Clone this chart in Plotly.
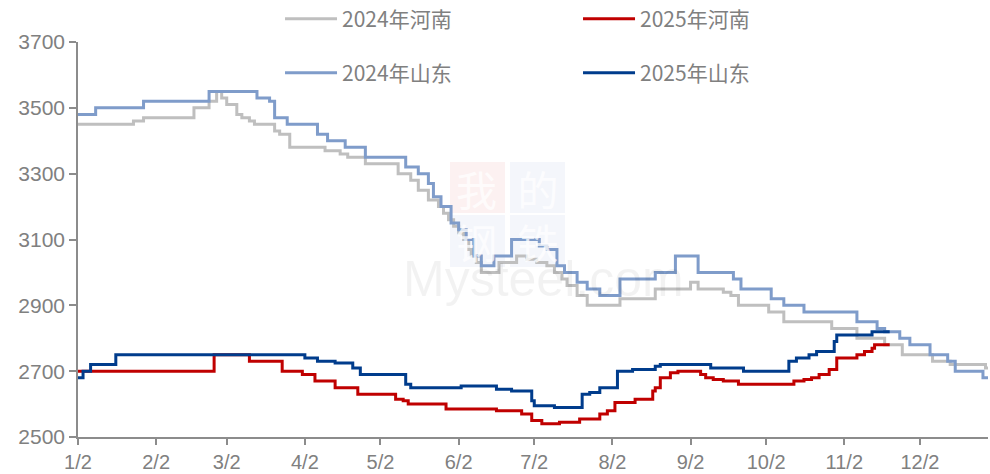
import plotly.graph_objects as go

# ---- data (change points of daily step series; all drawn on a Jan-Dec calendar) ----
henan_2024_dates = ["01-02", "01-24", "01-28", "02-17", "02-23", "02-26", "02-28", "03-02", "03-06", "03-08",
                    "03-11", "03-13", "03-21", "03-23", "03-27", "04-10", "04-16", "04-19", "04-26", "05-09",
                    "05-14", "05-17", "05-21", "05-25", "05-27", "05-29", "05-31", "06-02", "06-04", "06-06",
                    "06-07", "06-09", "06-11", "06-18", "06-25", "06-29", "07-03", "07-07", "07-10", "07-13",
                    "07-15", "07-19", "07-23", "08-05", "08-19", "09-02", "09-05", "09-15", "09-18", "09-21",
                    "10-03", "10-09", "10-28", "11-07", "11-18", "11-25", "12-07", "12-14", "12-28", "12-29"]
henan_2024_values = [3450, 3460, 3470, 3500, 3520, 3550, 3530, 3510, 3480, 3470,
                     3460, 3450, 3430, 3420, 3380, 3370, 3360, 3350, 3330, 3300,
                     3280, 3250, 3220, 3200, 3180, 3160, 3140, 3120, 3100, 3070,
                     3050, 3030, 3000, 3030, 3050, 3040, 3030, 3020, 3000, 2980,
                     2960, 2930, 2900, 2920, 2950, 2970, 2950, 2940, 2930, 2900,
                     2880, 2850, 2830, 2800, 2780, 2750, 2730, 2720, 2710, 2710]

henan_2025_dates = ["01-02", "02-25", "03-11", "03-24", "04-01", "04-06", "04-14", "04-23", "05-08", "05-11",
                    "05-13", "05-28", "06-17", "06-27", "07-01", "07-05", "07-12", "07-20", "07-28", "07-31",
                    "08-03", "08-11", "08-18", "08-19", "08-21", "08-25", "08-28", "09-06", "09-08", "09-11",
                    "09-15", "09-21", "10-13", "10-17", "10-20", "10-23", "10-27", "10-30", "11-07", "11-10",
                    "11-13", "11-14", "11-20"]
henan_2025_values = [2700, 2750, 2730, 2700, 2690, 2670, 2650, 2630, 2615, 2610,
                     2600, 2585, 2580, 2570, 2550, 2540, 2545, 2555, 2570, 2580,
                     2605, 2615, 2640, 2650, 2680, 2695, 2700, 2690, 2680, 2675,
                     2670, 2660, 2670, 2675, 2680, 2690, 2705, 2740, 2750, 2760,
                     2770, 2780, 2780]

shandong_2024_dates = ["01-02", "01-09", "01-28", "02-23", "03-14", "03-19", "03-21", "03-26", "04-07", "04-11",
                       "04-18", "04-26", "05-12", "05-17", "05-21", "05-23", "05-26", "05-30", "06-02", "06-05",
                       "06-08", "06-11", "06-16", "06-23", "07-04", "07-07", "07-11", "07-14", "07-19", "07-23",
                       "07-28", "08-05", "08-19", "08-27", "09-05", "09-19", "09-22", "10-04", "10-09", "10-17",
                       "11-07", "11-15", "11-18", "11-24", "11-28", "12-06", "12-13", "12-16", "12-27", "12-29"]
shandong_2024_values = [3480, 3500, 3520, 3550, 3530, 3520, 3470, 3450, 3420, 3400,
                        3380, 3350, 3320, 3300, 3270, 3230, 3200, 3150, 3130, 3100,
                        3050, 3020, 3050, 3100, 3080, 3070, 3020, 3000, 2970, 2950,
                        2930, 2980, 3000, 3050, 3000, 2980, 2950, 2920, 2900, 2880,
                        2850, 2830, 2820, 2800, 2780, 2750, 2730, 2700, 2680, 2680]

shandong_2025_dates = ["01-02", "01-04", "01-07", "01-17", "04-02", "04-07", "04-14", "04-21", "04-24", "05-12",
                       "05-14", "06-03", "06-17", "06-23", "07-01", "07-02", "07-10", "07-21", "07-24", "07-28",
                       "08-04", "08-10", "08-19", "08-21", "09-10", "09-23", "10-11", "10-14", "10-19", "10-22",
                       "10-29", "10-30", "11-13", "11-20"]
shandong_2025_values = [2680, 2700, 2720, 2750, 2740, 2730, 2725, 2710, 2690, 2660,
                        2650, 2655, 2645, 2640, 2610, 2595, 2590, 2630, 2635, 2650,
                        2700, 2705, 2715, 2720, 2710, 2700, 2730, 2740, 2750, 2760,
                        2790, 2810, 2820, 2820]

tick_dates = ["01-02", "02-02", "03-02", "04-02", "05-02", "06-02", "07-02", "08-02", "09-02", "10-02", "11-02", "12-02"]
tick_labels = ["1/2", "2/2", "3/2", "4/2", "5/2", "6/2", "7/2", "8/2", "9/2", "10/2", "11/2", "12/2"]

series = [
    ("2024年河南", henan_2024_dates, henan_2024_values, "#BFBFBF", "legend"),
    ("2025年河南", henan_2025_dates, henan_2025_values, "#C00000", "legend"),
    ("2024年山东", shandong_2024_dates, shandong_2024_values, "#7F9CCA", "legend2"),
    ("2025年山东", shandong_2025_dates, shandong_2025_values, "#003C8C", "legend2"),
]

YEAR = "2025-"
FONT = "Noto Sans CJK SC"
TICKFONT = "Liberation Sans"
GREY = "#808080"

fig = go.Figure()
for name, d, v, color, lg in series:
    fig.add_trace(go.Scatter(
        x=[YEAR + s for s in d], y=v, name=name, mode="lines",
        line=dict(color=color, width=3, shape="hv"), legend=lg,
    ))

# faint watermark (我的钢铁 / Mysteel.com)
blocks = [
    (0.4088, 0.4692, 0.5671, 0.6962, "rgba(230,120,120,0.10)"),
    (0.4747, 0.5352, 0.5671, 0.6962, "rgba(120,140,200,0.08)"),
    (0.4088, 0.4692, 0.4304, 0.5620, "rgba(120,140,200,0.08)"),
    (0.4747, 0.5352, 0.4304, 0.5620, "rgba(120,140,200,0.08)"),
]
for x0, x1, y0, y1, fill in blocks:
    fig.add_shape(type="rect", xref="paper", yref="paper", x0=x0, x1=x1, y0=y0, y1=y1,
                  fillcolor=fill, line=dict(width=0), layer="below")
fig.add_annotation(text="我\u2002的<br>钢\u2002铁", xref="paper", yref="paper", x=0.472, y=0.563,
                   showarrow=False, align="center",
                   font=dict(family=FONT, size=41, color="rgba(255,255,255,0.75)"))
fig.add_annotation(text="Mysteel.com", xref="paper", yref="paper", x=0.511, y=0.400,
                   showarrow=False, font=dict(family=TICKFONT, size=50, color="rgba(0,0,0,0.05)"))

legend_common = dict(
    orientation="h", xanchor="left", yanchor="middle",
    font=dict(family=FONT, size=21, color=GREY),
    bgcolor="rgba(0,0,0,0)", entrywidth=231, itemwidth=52,
    traceorder="normal",
)

fig.update_layout(
    template="none",
    width=990, height=474,
    margin=dict(l=78, r=2, t=42, b=37, autoexpand=False),
    paper_bgcolor="white", plot_bgcolor="white",
    font=dict(family=FONT, size=21, color=GREY),
    showlegend=True,
    legend=dict(x=0.222, y=1.058, **legend_common),
    legend2=dict(x=0.222, y=0.9215, **legend_common),
    xaxis=dict(
        type="date", range=[YEAR + "01-02", YEAR + "12-29"],
        tickmode="array", tickvals=[YEAR + s for s in tick_dates], ticktext=tick_labels,
        showline=True, linecolor="#8C8C8C", linewidth=1.5,
        ticks="outside", ticklen=6, tickcolor="#8C8C8C", tickwidth=1.5,
        showgrid=False, zeroline=False, automargin=False,
        tickfont=dict(family=TICKFONT, size=20, color=GREY),
    ),
    yaxis=dict(
        range=[2500, 3700], dtick=200, tick0=2500,
        showline=True, linecolor="#8C8C8C", linewidth=1.5,
        ticks="outside", ticklen=7, tickcolor="#8C8C8C", tickwidth=1.5,
        showgrid=False, zeroline=False, automargin=False,
        tickfont=dict(family=TICKFONT, size=21, color=GREY),
    ),
)

# remove the default page margin so the 990x474 figure fills the window exactly
fig.write_html(
    "out.html",
    config={"displayModeBar": False},
    post_script="document.body.style.margin='0';document.body.style.overflow='hidden';",
)
